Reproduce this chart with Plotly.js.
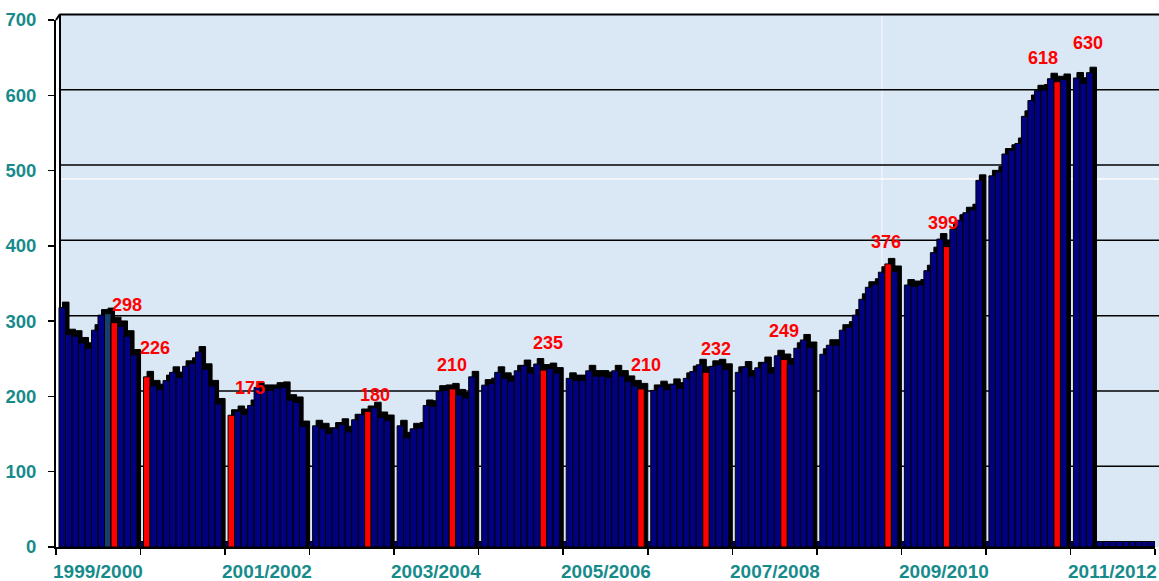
<!DOCTYPE html>
<html><head><meta charset="utf-8">
<script src="https://cdn.plot.ly/plotly-3.0.1.min.js"></script>
<style>html,body{margin:0;padding:0;background:#fff}#chart{width:1159px;height:581px}</style>
</head><body><div id="chart"></div>
<script>
// ---- data ----
const seasons = ['1999/2000','2000/2001','2001/2002','2002/2003','2003/2004','2004/2005','2005/2006',
                 '2006/2007','2007/2008','2008/2009','2009/2010','2010/2011','2011/2012'];
const v1999 = [318, 282, 280, 271, 264, 288, 308, 310, 298, 293, 280, 255];
const v2000 = [226, 214, 209, 221, 232, 225, 240, 244, 259, 236, 214, 190];
const v2001 = [175, 180, 176, 188, 212, 208, 208, 211, 212, 195, 192, 160];
const v2002 = [161, 157, 151, 158, 163, 153, 169, 176, 180, 185, 172, 168];
const v2003 = [161, 145, 157, 158, 188, 187, 207, 208, 210, 202, 198, 226];
const v2004 = [215, 217, 232, 224, 220, 234, 241, 231, 243, 235, 237, 231];
const v2005 = [224, 221, 221, 234, 227, 227, 225, 234, 227, 220, 214, 210];
const v2006 = [208, 213, 209, 216, 211, 224, 233, 242, 232, 240, 242, 236];
const v2007 = [232, 239, 227, 238, 245, 231, 254, 249, 243, 264, 275, 265];
const v2008 = [256, 268, 268, 288, 292, 308, 329, 345, 349, 365, 376, 366];
const v2009 = [348, 346, 348, 367, 391, 409, 399, 422, 434, 444, 448, 487];
const v2010 = [493, 498, 522, 527, 536, 572, 593, 606, 607, 622, 618, 621];
const v2011 = [623, 616, 630];
const seasonValues = [v1999, v2000, v2001, v2002, v2003, v2004, v2005, v2006, v2007, v2008, v2009, v2010, v2011];
// month index (within season) of the highlighted (red) bar, and of the labelled bar
const redMonth   = [8, 0, 0, 8, 8, 9, 11, 8, 7, 10, 6, 10, null];
const labelMonth = [8, 0, 0, 8, 8, 9, 11, 8, 7, 10, 6, 10, 2];
const darkMonth  = {season: 0, month: 7};
const yTicks = [0, 100, 200, 300, 400, 500, 600, 700];

// ---- style ----
const NAVY = '#000080', RED = '#ff0000', DARK = '#173f6e', TEAL = '#178b8b';
const SLOTS = 13;          // 12 months + 1 empty slot per season
const DEPTH = 7.3;         // 3D depth in value units
const FONT = 'Liberation Sans, Arial, sans-serif';
// label pixel offsets [dx, gap above bar]
const labelStyle = [[13,11],[8,22],[19,20],[7,9],[0,17],[5,20],[5,17],[10,16],[0,22],[-2,15],[-4,17],[-14,17],[-2,23]];

const xs = [], ys = [], cols = [], shCols = [];
seasonValues.forEach((vals, s) => {
  for (let m = 0; m < SLOTS; m++) {
    const v = m < 12 ? (vals[m] !== undefined ? vals[m] : 0) : 0;
    xs.push(s * SLOTS + m);
    ys.push(v);
    let c = NAVY;
    if (redMonth[s] === m) c = RED;
    if (darkMonth.season === s && darkMonth.month === m) c = DARK;
    cols.push(c);
    shCols.push(v > 0 ? '#000000' : NAVY);
  }
});

const shadow = {
  type: 'bar', x: xs, y: ys.map(v => v + DEPTH), offset: 0.5, width: 1,
  marker: {color: shCols, line: {color: '#000', width: 1}}, hoverinfo: 'skip'
};
const front = {
  type: 'bar', x: xs, y: ys, offset: -0.04, width: 1,
  marker: {color: cols, line: {color: '#000', width: 1}}, hoverinfo: 'skip'
};

const nSlots = seasons.length * SLOTS;
const boundaries = seasons.map((_, s) => s * SLOTS - 0.5).concat([nSlots - 0.5]);

const annotations = [];
seasons.forEach((name, s) => {
  if (s % 2 === 0) {
    annotations.push({x: s * SLOTS + 6, xref: 'x', y: 0, yref: 'paper', yshift: -24, yanchor: 'middle',
      text: name, showarrow: false, font: {family: FONT, size: 19, color: TEAL, weight: 'bold'}});
  }
  const lm = labelMonth[s];
  if (lm !== null) {
    const st = labelStyle[s];
    annotations.push({x: s * SLOTS + lm, y: seasonValues[s][lm], xref: 'x', yref: 'y',
      xanchor: 'center', yanchor: 'bottom', xshift: st[0] + 3, yshift: st[1] - 5,
      text: String(seasonValues[s][lm]), showarrow: false,
      font: {family: FONT, size: 18, color: RED, weight: 'bold'}});
  }
});

const W = 1099, H = 527;
const wallX = 4 / W, topY = 533 / H, rightX = 1103 / W;
const shapes = [
  {type: 'rect', xref: 'paper', yref: 'paper', x0: wallX, x1: rightX, y0: 0, y1: topY,
   fillcolor: '#dae7f5', line: {width: 0}, layer: 'below'},
  {type: 'line', xref: 'paper', yref: 'paper', x0: wallX, x1: rightX, y0: 368 / H, y1: 368 / H,
   line: {color: 'rgba(255,255,255,0.9)', width: 1.5}, layer: 'below'},
  {type: 'line', xref: 'paper', yref: 'paper', x0: 826 / W, x1: 826 / W, y0: 0, y1: topY,
   line: {color: 'rgba(255,255,255,0.8)', width: 1}, layer: 'below'},
];
yTicks.filter(t => t > 0).forEach(t => {
  const py = (t + DEPTH) / 700;
  shapes.push({type: 'line', xref: 'paper', yref: 'paper', x0: wallX, x1: rightX, y0: py, y1: py,
    line: {color: '#000', width: t === 700 ? 2 : 1.5}, layer: 'between'});
});
shapes.push({type: 'line', xref: 'paper', yref: 'paper', x0: wallX, x1: wallX, y0: 0, y1: topY,
  line: {color: '#000', width: 2}, layer: 'between'});
shapes.push({type: 'line', xref: 'paper', yref: 'paper', x0: 0, x1: wallX, y0: 1, y1: topY,
  line: {color: '#000', width: 2}, layer: 'above'});

const layout = {
  width: 1159, height: 581,
  margin: {l: 56, r: 4, t: 20, b: 34},
  paper_bgcolor: '#ffffff', plot_bgcolor: 'rgba(0,0,0,0)',
  showlegend: false, barmode: 'overlay',
  xaxis: {range: [-0.5, nSlots - 0.5], tickmode: 'array', tickvals: boundaries, showticklabels: false,
    ticks: 'outside', ticklen: 6, tickwidth: 1.5, tickcolor: '#000',
    showline: true, linecolor: '#000', linewidth: 2, showgrid: false, zeroline: false, fixedrange: true},
  yaxis: {range: [0, 700], tickmode: 'array', tickvals: yTicks,
    ticks: 'outside', ticklen: 6, tickwidth: 1.5, tickcolor: '#000', ticklabelstandoff: 8,
    showline: true, linecolor: '#000', linewidth: 2, showgrid: false, zeroline: false, fixedrange: true,
    tickfont: {family: FONT, size: 18.5, color: TEAL, weight: 'bold'}},
  shapes: shapes,
  annotations: annotations
};

Plotly.newPlot('chart', [shadow, front], layout, {displayModeBar: false, staticPlot: true});
</script>
</body></html>
